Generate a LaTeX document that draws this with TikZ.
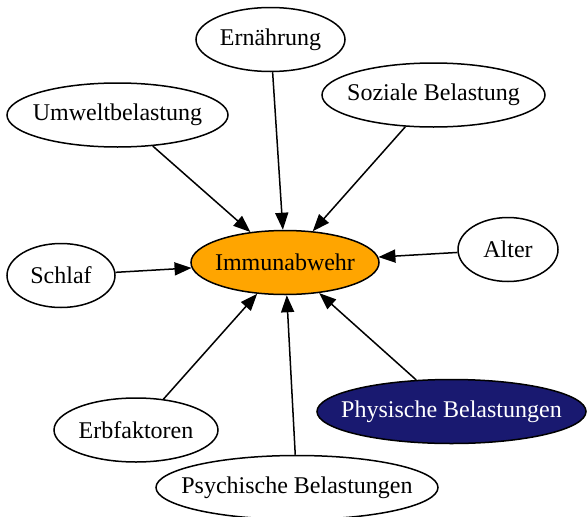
\documentclass[tikz,border=0pt]{standalone}
\usepackage{fontspec}
\setmainfont{Liberation Serif}
\usetikzlibrary{arrows.meta,shapes.geometric}
\definecolor{gvorange}{HTML}{FFA500}
\definecolor{gvnavy}{HTML}{191970}
\tikzset{
  ell/.style={ellipse, draw=black, line width=1.5pt, inner sep=0pt, minimum height=64pt,
    font=\fontsize{24}{28}\selectfont, fill=white, text=black},
  conn/.style={line width=1.5pt, -{Triangle[length=17pt,width=13pt]}},
}
\newcommand{\zw}[1]{\makebox[0pt]{#1}}
\begin{document}
\begin{tikzpicture}[x=1pt,y=-1pt]
\useasboundingbox (0,0) rectangle (587,517);
\node[ell, minimum width=149pt] (ern) at (270.5,39.5) {\zw{Ernährung}};
\node[ell, minimum width=221pt] (umw) at (117.5,115) {\zw{Umweltbelastung}};
\node[ell, minimum width=223pt] (soz) at (433.5,95) {\zw{Soziale Belastung}};
\node[ell, minimum width=188pt, fill=gvorange] (imm) at (285,262.5) {\zw{Immunabwehr}};
\node[ell, minimum width=100pt] (alt) at (508,249.5) {\zw{Alter}};
\node[ell, minimum width=108pt] (sch) at (61,275.5) {\zw{Schlaf}};
\node[ell, minimum width=164pt] (erb) at (136,430) {\zw{Erbfaktoren}};
\node[ell, minimum width=269pt, fill=gvnavy, text=white] (phy) at (451.5,411.5) {\zw{Physische Belastungen}};
\node[ell, minimum width=282pt] (psy) at (297,487.5) {\zw{Psychische Belastungen}};
\draw[conn] (ern) -- (imm);
\draw[conn] (umw) -- (imm);
\draw[conn] (soz) -- (imm);
\draw[conn] (alt) -- (imm);
\draw[conn] (sch) -- (imm);
\draw[conn] (erb) -- (imm);
\draw[conn] (psy) -- (imm);
\draw[conn] (phy) -- (imm);
\end{tikzpicture}
\end{document}
